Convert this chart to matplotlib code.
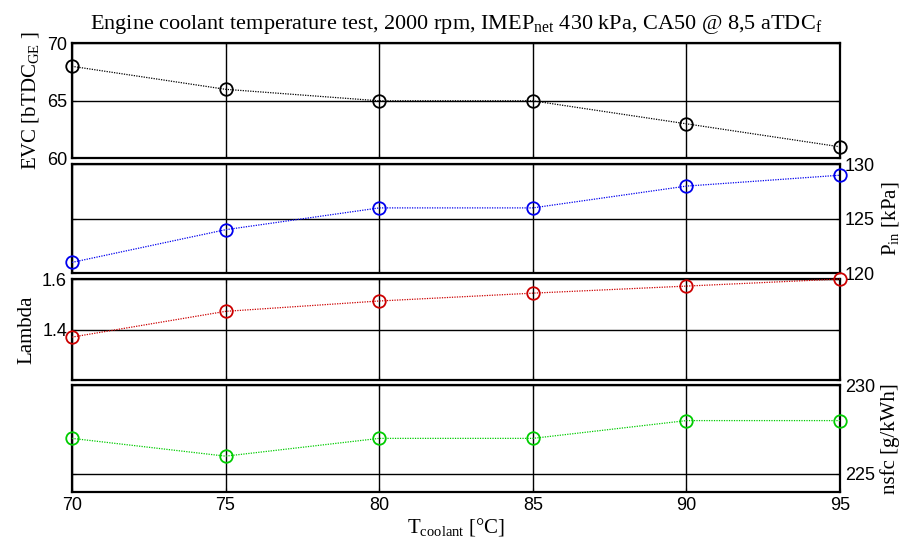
import matplotlib.pyplot as plt

plt.rcParams['mathtext.fontset'] = 'custom'
plt.rcParams['mathtext.rm'] = 'Liberation Serif'
plt.rcParams['mathtext.it'] = 'Liberation Serif'

# data
t_coolant = [70, 75, 80, 85, 90, 95]
evc = [68, 66, 65, 65, 63, 61]
p_in = [121, 124, 126, 126, 128, 129]
lam = [1.37, 1.472, 1.513, 1.544, 1.572, 1.6]
nsfc = [227, 226, 227, 227, 228, 228]

series = [evc, p_in, lam, nsfc]
colors = ['k', '#0000ee', '#cc0000', '#00cc00']
ylims = [(60, 70), (120, 130), (1.2, 1.6), (224, 230)]
yticks = [[60, 65, 70], [120, 125, 130], [1.2, 1.4, 1.6], [225, 230]]
yticklabels = [['60', '65', '70'], ['120', '125', '130'], ['', '1.4', '1.6'], ['225', '230']]
ylabels = [r'EVC [bTDC$_{\mathrm{GE}}$ ]', r'P$_{\mathrm{in}}$ [kPa]', 'Lambda', 'nsfc [g/kWh]']
label_right = [False, True, False, True]

# axes positions (left, bottom, width, height)
positions = [
    [0.0789, 0.7127, 0.8421, 0.2087],
    [0.0789, 0.5040, 0.8421, 0.1978],
    [0.0789, 0.3103, 0.8421, 0.1833],
    [0.0789, 0.1076, 0.8421, 0.1936],
]

serif = 'Liberation Serif'
sans = 'Liberation Sans'

fig = plt.figure(figsize=(9.12, 5.51), dpi=100)

for i in range(4):
    ax = fig.add_axes(positions[i])
    ax.plot(t_coolant, series[i], linestyle=(0, (1, 1)), color=colors[i], linewidth=0.9,
            marker='o', markersize=9, markerfacecolor='none', markeredgewidth=1.3,
            clip_on=False, zorder=5)
    ax.set_xlim(70, 95)
    ax.set_ylim(*ylims[i])
    ax.set_xticks(t_coolant)
    ax.set_yticks(yticks[i])
    ax.grid(True, color='k', linestyle='-', linewidth=1)
    for s in ax.spines.values():
        s.set_linewidth(1.6)
    ax.tick_params(direction='in', length=3, top=True, right=True, left=True,
                   labelsize=13)
    if label_right[i]:
        ax.yaxis.tick_right()
        ax.yaxis.set_label_position('right')
        ax.tick_params(axis='y', left=True, right=True, direction='in', length=3)
    ax.set_yticklabels(yticklabels[i], fontfamily=sans)
    ax.set_ylabel(ylabels[i], fontfamily=serif, fontsize=15)
    if i < 3:
        ax.set_xticklabels([])
    else:
        ax.set_xticklabels([str(t) for t in t_coolant], fontfamily=sans)
        ax.set_xlabel(r'T$_{\mathrm{coolant}}$ [$\degree$C]', fontfamily=serif, fontsize=15, labelpad=2)
    if i == 0:
        ax.set_title(r'Engine coolant temperature test, 2000 rpm, IMEP$_{\mathrm{net}}$ 430 kPa, CA50 @ 8,5 aTDC$_{\mathrm{f}}$',
                     fontfamily=serif, fontsize=16, pad=10)

fig.savefig('out.png', dpi=100)
